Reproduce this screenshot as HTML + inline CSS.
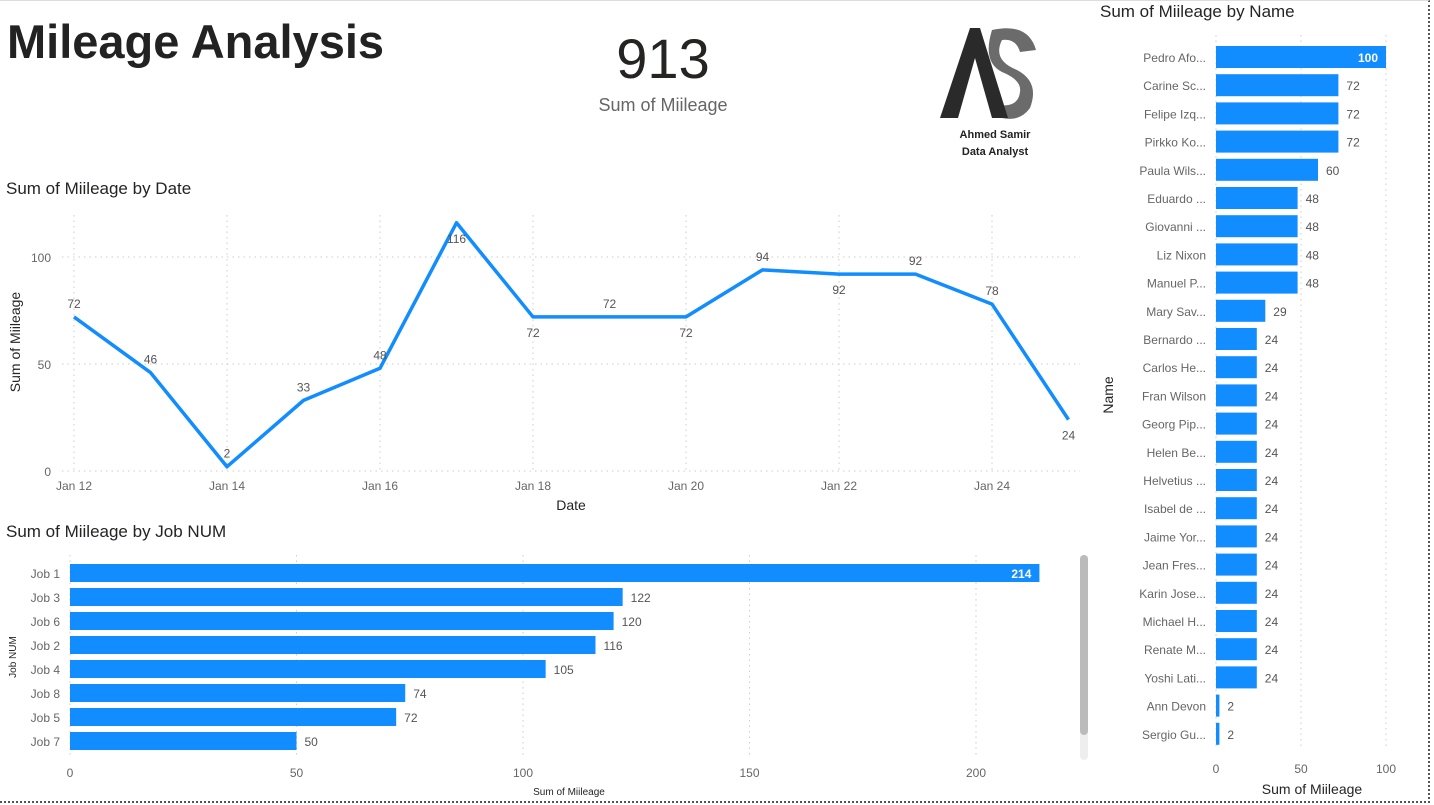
<!DOCTYPE html>
<html><head><meta charset="utf-8"><style>
body{margin:0;width:1434px;height:805px;background:#fff;font-family:"Liberation Sans","DejaVu Sans",sans-serif;overflow:hidden;position:relative}
.abs{position:absolute}
svg text{font-family:"Liberation Sans","DejaVu Sans",sans-serif}
</style></head><body>
<div class="abs" style="left:0;top:0;width:1428px;height:800px;border-right:2px dotted #555;border-bottom:2px dotted #555;border-top:1px solid #ddd"></div>
<div class="abs" style="left:7px;top:14px;font-size:47px;font-weight:bold;color:#222;letter-spacing:0px">Mileage Analysis</div>
<div class="abs" style="left:563px;top:26px;width:200px;text-align:center;font-size:56px;color:#252423">913</div>
<div class="abs" style="left:563px;top:95px;width:200px;text-align:center;font-size:18px;color:#666">Sum of Miileage</div>
<svg class="abs" style="left:930px;top:20px" width="120" height="145">
<path d="M62 10 Q98 2 106 30 L90 32 Q86 18 72 20 Q62 40 87 50 Q110 62 100 88 Q90 102 72 98 L68 85 Q88 88 90 72 Q92 60 72 52 Q52 42 62 10Z" fill="#6b6b6b"/>
<path d="M10 98 L40 8 L50 8 L78 98 L62 98 L45 38 L28 98Z" fill="#2a2a2a"/>
<text x="65" y="118" text-anchor="middle" font-size="11" font-weight="bold" fill="#222">Ahmed Samir</text>
<text x="65" y="135" text-anchor="middle" font-size="11" font-weight="bold" fill="#222">Data Analyst</text>
</svg>
<svg class="abs" id="line" style="left:0;top:170px" width="1090" height="350"></svg>
<svg class="abs" id="job" style="left:0;top:515px" width="1095" height="290"></svg>
<svg class="abs" id="name" style="left:1095px;top:0" width="330" height="805"></svg>
<script>
const dates=["Jan 12","Jan 13","Jan 14","Jan 15","Jan 16","Jan 17","Jan 18","Jan 19","Jan 20","Jan 21","Jan 22","Jan 23","Jan 24","Jan 25"];
const dateValues=[72,46,2,33,48,116,72,72,72,94,92,92,78,24];
const dateLabelBelow=[false,false,false,false,false,true,true,false,true,false,true,false,false,true];
const dateYTicks=[0,50,100];
const jobs=["Job 1","Job 3","Job 6","Job 2","Job 4","Job 8","Job 5","Job 7"];
const jobValues=[214,122,120,116,105,74,72,50];
const jobXTicks=[0,50,100,150,200];
const names=["Pedro Afo...","Carine Sc...","Felipe Izq...","Pirkko Ko...","Paula Wils...","Eduardo ...","Giovanni ...","Liz Nixon","Manuel P...","Mary Sav...","Bernardo ...","Carlos He...","Fran Wilson","Georg Pip...","Helen Be...","Helvetius ...","Isabel de ...","Jaime Yor...","Jean Fres...","Karin Jose...","Michael H...","Renate M...","Yoshi Lati...","Ann Devon","Sergio Gu..."];
const nameValues=[100,72,72,72,60,48,48,48,48,29,24,24,24,24,24,24,24,24,24,24,24,24,24,2,2];
const nameXTicks=[0,50,100];
const NS="http://www.w3.org/2000/svg";
const BLUE="#118DFF";
function mk(p,t,a,txt){const e=document.createElementNS(NS,t);for(const k in a)e.setAttribute(k,a[k]);if(txt!==undefined)e.textContent=txt;p.appendChild(e);return e;}
(function(){
const s=document.getElementById('line');
const x=i=>74+i*76.5, y=v=>301-v*2.14;
let t=mk(s,'text',{x:6,y:24,'font-size':17,fill:'#252423'},'Sum of Miileage by Date');

dateYTicks.forEach(v=>{
 let g=mk(s,'line',{x1:62,x2:1080,y1:y(v),y2:y(v),stroke:'#ccc','stroke-dasharray':'1.5 4'});
 
 let l=mk(s,'text',{x:51,y:y(v)+5,'text-anchor':'end','font-size':12,fill:'#666'},v);
 
});
dates.forEach((d,i)=>{if(i%2==0){
 let g=mk(s,'line',{x1:x(i),x2:x(i),y1:45,y2:301,stroke:'#ccc','stroke-dasharray':'1.5 4'});
 
 let l=mk(s,'text',{x:x(i),y:320,'text-anchor':'middle','font-size':12,fill:'#666'},d);
 
}});
let p=mk(s,'polyline',{points:dateValues.map((v,i)=>x(i)+','+y(v)).join(' '),fill:'none',stroke:BLUE,'stroke-width':3.5,'stroke-linejoin':'round'});

dateValues.forEach((v,i)=>{
 let l=mk(s,'text',{x:x(i),y:dateLabelBelow[i]?y(v)+20:y(v)-9,'text-anchor':'middle','font-size':12,fill:'#555'},v);
 
});
let a=mk(s,'text',{x:571,y:340,'text-anchor':'middle','font-size':14,fill:'#252423'},'Date');

let b=mk(s,'text',{x:0,y:0,transform:'translate(20,172) rotate(-90)','text-anchor':'middle','font-size':14,fill:'#252423'},'Sum of Miileage');

})();
(function(){
const s=document.getElementById('job');
const x=v=>70+v*4.53, yc=i=>58+i*24;
let t=mk(s,'text',{x:6,y:22,'font-size':17,fill:'#252423'},'Sum of Miileage by Job NUM');

jobXTicks.forEach(v=>{
 let g=mk(s,'line',{x1:x(v),x2:x(v),y1:40,y2:240,stroke:'#ccc','stroke-dasharray':'1.5 4'});
 
 let l=mk(s,'text',{x:x(v),y:262,'text-anchor':'middle','font-size':12,fill:'#666'},v);
 
});
jobs.forEach((j,i)=>{
 let l=mk(s,'text',{x:60,y:yc(i)+5,'text-anchor':'end','font-size':12,fill:'#666'},j);
 
 let r=mk(s,'rect',{x:70,y:yc(i)-9,width:x(jobValues[i])-70,height:18,fill:BLUE});
 
 let inside=jobValues[i]>180;
 let v=mk(s,'text',{x:inside?x(jobValues[i])-8:x(jobValues[i])+8,y:yc(i)+5,'text-anchor':inside?'end':'start','font-size':12,fill:inside?'#fff':'#555','font-weight':inside?'bold':'normal'},jobValues[i]);
 
});
let a=mk(s,'text',{x:569,y:280,'text-anchor':'middle','font-size':10,fill:'#252423'},'Sum of Miileage');

let b=mk(s,'text',{x:0,y:0,transform:'translate(16,142) rotate(-90)','text-anchor':'middle','font-size':10,fill:'#252423'},'Job NUM');

let sb=mk(s,'rect',{x:1080,y:40,width:8,height:205,rx:4,fill:'#eee'});

let th=mk(s,'rect',{x:1080,y:40,width:8,height:180,rx:4,fill:'#bbb'});

})();
(function(){
const s=document.getElementById('name');
const x=v=>121+v*1.7, yc=i=>57+i*28.2;
let t=mk(s,'text',{x:5,y:17,'font-size':17,fill:'#252423'},'Sum of Miileage by Name');

nameXTicks.forEach(v=>{
 let g=mk(s,'line',{x1:x(v),x2:x(v),y1:35,y2:750,stroke:'#ccc','stroke-dasharray':'1.5 4'});
 
 let l=mk(s,'text',{x:x(v),y:773,'text-anchor':'middle','font-size':12,fill:'#666'},v);
 
});
names.forEach((n,i)=>{
 let l=mk(s,'text',{x:111,y:yc(i)+5,'text-anchor':'end','font-size':12,fill:'#666'},n);
 
 let r=mk(s,'rect',{x:121,y:yc(i)-11,width:Math.max(3,x(nameValues[i])-121),height:22,fill:BLUE});
 
 let inside=nameValues[i]>=90;
 let v=mk(s,'text',{x:inside?x(nameValues[i])-8:x(nameValues[i])+8,y:yc(i)+5,'text-anchor':inside?'end':'start','font-size':12,fill:inside?'#fff':'#555','font-weight':inside?'bold':'normal'},nameValues[i]);
 
});
let a=mk(s,'text',{x:217,y:794,'text-anchor':'middle','font-size':14,fill:'#252423'},'Sum of Miileage');

let b=mk(s,'text',{x:0,y:0,transform:'translate(18,395) rotate(-90)','text-anchor':'middle','font-size':14,fill:'#252423'},'Name');

})();
</script>
</body></html>
